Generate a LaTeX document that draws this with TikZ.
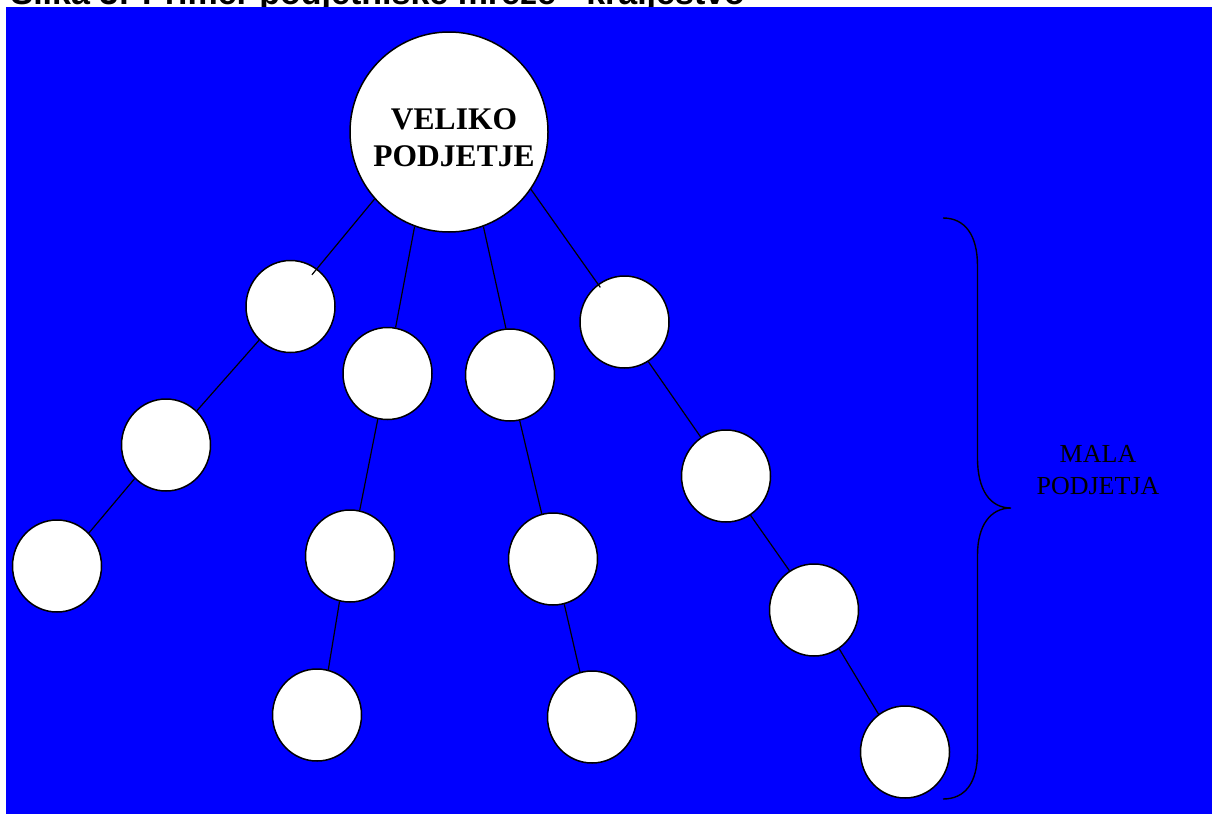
\documentclass[tikz,border=0pt]{standalone}
\usepackage{fontspec}
\setmainfont{Liberation Serif}
\newfontfamily\titlefont{Liberation Sans}
\usetikzlibrary{shapes.geometric}

\tikzset{every picture/.style={line width=1.2pt}}
\tikzset{
    firm/.style={ellipse, draw, fill=white, line width=1.5pt, minimum width=89pt, minimum height=92pt, inner sep=0pt},
    bigfirm/.style={firm, minimum width=198pt, minimum height=200pt},
    poke/.style={shorten >=-8pt}
}

\begin{document}
\begin{tikzpicture}[x=1pt, y=-1pt]
    \useasboundingbox (0,0) rectangle (1212,814);
    \clip (0,0) rectangle (1212,814);
    \node[anchor=base west, inner sep=0pt, font=\titlefont\bfseries\fontsize{34}{40}\selectfont] (title) at (10,4.5) {Slika 3: Primer podjetniške mreže - kraljestvo};
    \fill[color={rgb,255:red,0;green,0;blue,255}] (6,7) rectangle (1212,814);
    % veliko podjetje
    \node[bigfirm] (vp) at (449,132) {};
    \node[align=center, font=\bfseries\fontsize{31.5}{36.7}\selectfont] (vptext) at ([xshift=5pt, yshift=-6pt]vp.center) {VELIKO\\PODJETJE};
    % mala podjetja
    \node[firm] (a1) at (290.5,306.5) {};
    \node[firm] (a2) at (166,445) {};
    \node[firm] (a3) at (57,566) {};
    \node[firm] (b1) at (387.5,373.5) {};
    \node[firm] (b2) at (350,556) {};
    \node[firm] (b3) at (317,715) {};
    \node[firm] (c1) at (510,375) {};
    \node[firm] (c2) at (553,559) {};
    \node[firm] (c3) at (592,717) {};
    \node[firm] (d1) at (624.5,322) {};
    \node[firm] (d2) at (726,476) {};
    \node[firm] (d3) at (814,610) {};
    \node[firm] (d4) at (905,752) {};
    \draw[poke] (vp.222) -- (a1.55);
    \draw (vp.250) -- (b1.80);
    \draw (vp.290) -- (c1.95);
    \draw[shorten >=-4pt] (vp.325) -- (d1.125);
    \draw (a1.227) -- (a2.48);
    \draw (a2.227) -- (a3.46);
    \draw (b1.258) -- (b2.78);
    \draw (b2.257) -- (b3.76);
    \draw (c1.282) -- (c2.104);
    \draw (c2.284) -- (c3.105);
    \draw (d1.301) -- (d2.123);
    \draw (d2.302) -- (d3.122);
    \draw (d3.303) -- (d4.125);
    % oklepaj
    \draw[line width=1.4pt] (943,218) .. controls (965,218) and (977.5,235) .. (977.5,266) -- (977.5,458)
        .. controls (977.5,490) and (990,508) .. (1011,508)
        .. controls (990,508) and (977.5,526) .. (977.5,555) -- (977.5,752)
        .. controls (977.5,783) and (965,799) .. (943,799);
    \node[align=center, font=\fontsize{26}{31.6}\selectfont] (mp) at (1098,470) {MALA\\PODJETJA};
\end{tikzpicture}
\end{document}
